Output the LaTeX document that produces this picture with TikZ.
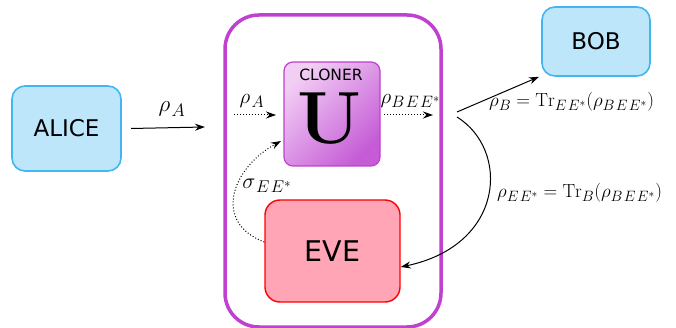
\RequirePackage{fix-cm}
\documentclass[tikz,border=0pt]{standalone}
\usepackage{fontspec}
\newfontfamily\boxfont{DejaVu Sans}
\usetikzlibrary{arrows.meta,calc}
\DeclareMathSizes{19}{19}{15}{11.5}
\DeclareMathSizes{21}{21}{16.5}{12.5}
\DeclareMathSizes{22}{22}{17}{13}
\DeclareMathSizes{23}{23}{18}{14}
\newcommand\lblsz[1]{\fontsize{#1}{#1}\selectfont}
\newcommand\sep{\mkern1.5mu}
\definecolor{bluefill}{HTML}{BEE6FB}
\definecolor{blueline}{HTML}{45B5F2}
\definecolor{purpline}{HTML}{C040D0}
\definecolor{clonA}{HTML}{F2CDF4}
\definecolor{clonB}{HTML}{C55CD6}
\definecolor{evefill}{HTML}{FFA5B5}
\tikzset{
  party/.style={draw=blueline, fill=bluefill, line width=1.6pt, rounded corners=13pt, font=\boxfont\fontsize{23}{27}\selectfont, inner sep=0pt},
  solidarrow/.style={-{Stealth[length=10pt,width=7pt]}, line width=1pt},
  dotarrow/.style={-{Stealth[length=10pt,width=7pt]}, line width=1pt, dotted},
  lbl/.style={inner sep=1pt},
}
\begin{document}
\begin{tikzpicture}[x=1pt,y=-1pt]
\useasboundingbox (0,0) rectangle (676,328);
% big container
\node[draw=purpline, line width=3.5pt, rounded corners=34pt, minimum width=216pt, minimum height=312pt, inner sep=0pt] (box) at (333,171) {};
% parties
\node[party, minimum width=109pt, minimum height=85pt] (alice) at (66.5,128.5) {ALICE};
\node[party, minimum width=108pt, minimum height=69pt] (bob) at (596,41.5) {BOB};
% cloner
\node[draw=purpline, line width=1.2pt, rounded corners=9pt, minimum width=96pt, minimum height=104pt, inner sep=0pt,
  left color=clonA, right color=clonB, shading angle=45] (cloner) at (332,114) {};
\node[font=\boxfont\fontsize{15.5}{18}\selectfont, inner sep=0pt] (clonertxt) at (331,75) {CLONER};
\node[font=\bfseries\fontsize{74}{76}\selectfont, inner sep=0pt] (U) at (329,119) {U};
% eve
\node[draw=red, fill=evefill, line width=1.4pt, rounded corners=15pt, minimum width=135pt, minimum height=102pt, inner sep=0pt,
  font=\boxfont\fontsize{28.5}{32}\selectfont] (eve) at (332.5,251) {EVE};
% arrows
\coordinate (a1) at (131,127);
\coordinate (a2) at (205,127);
\draw[solidarrow] (alice.east -| a1) -- (a2);
\node[lbl, font=\lblsz{23}] (rhoA) at (172,109) {$\rho_{\sep A}$};
\coordinate (d1) at (234,115);
\coordinate (d2) at (276,115);
\draw[dotarrow] (d1) -- (d2);
\node[lbl, font=\lblsz{21}] (rhoA2) at (252,101) {$\rho_{\sep A}$};
\coordinate (d3) at (384,115);
\coordinate (d4) at (433,115);
\draw[dotarrow] (d3) -- (d4);
\node[lbl, font=\lblsz{21}] (rhoBEE) at (410.5,101) {$\rho_{B\sep E\sep E^*}$};
% sigma
\coordinate (sigEnd) at (281,141);
\draw[dotarrow] (eve.west |- 0,242) .. controls (212,222) and (232,168) .. (sigEnd);
\node[lbl, font=\lblsz{22}] (sigma) at (267,186) {$\sigma_{\sep E\sep E^*}$};
% to bob and eve
\coordinate (s1) at (457,112);
\coordinate (s2) at (457,117);
\draw[solidarrow] (s1) -- (bob.south west -| 539,58);
\draw[solidarrow] (s2) .. controls (510,150) and (505,245) .. (eve.east |- 0,267);
\node[lbl, anchor=west, font=\lblsz{19}] (trB) at (488,102) {$\rho_B = \mathrm{Tr}_{E\sep E^*}(\rho_{B\sep E\sep E^*})$};
\node[lbl, anchor=west, font=\lblsz{19}] (trE) at (496,193) {$\rho_{E\sep E^*} = \mathrm{Tr}_{B}(\rho_{B\sep E\sep E^*})$};
\end{tikzpicture}
\end{document}
